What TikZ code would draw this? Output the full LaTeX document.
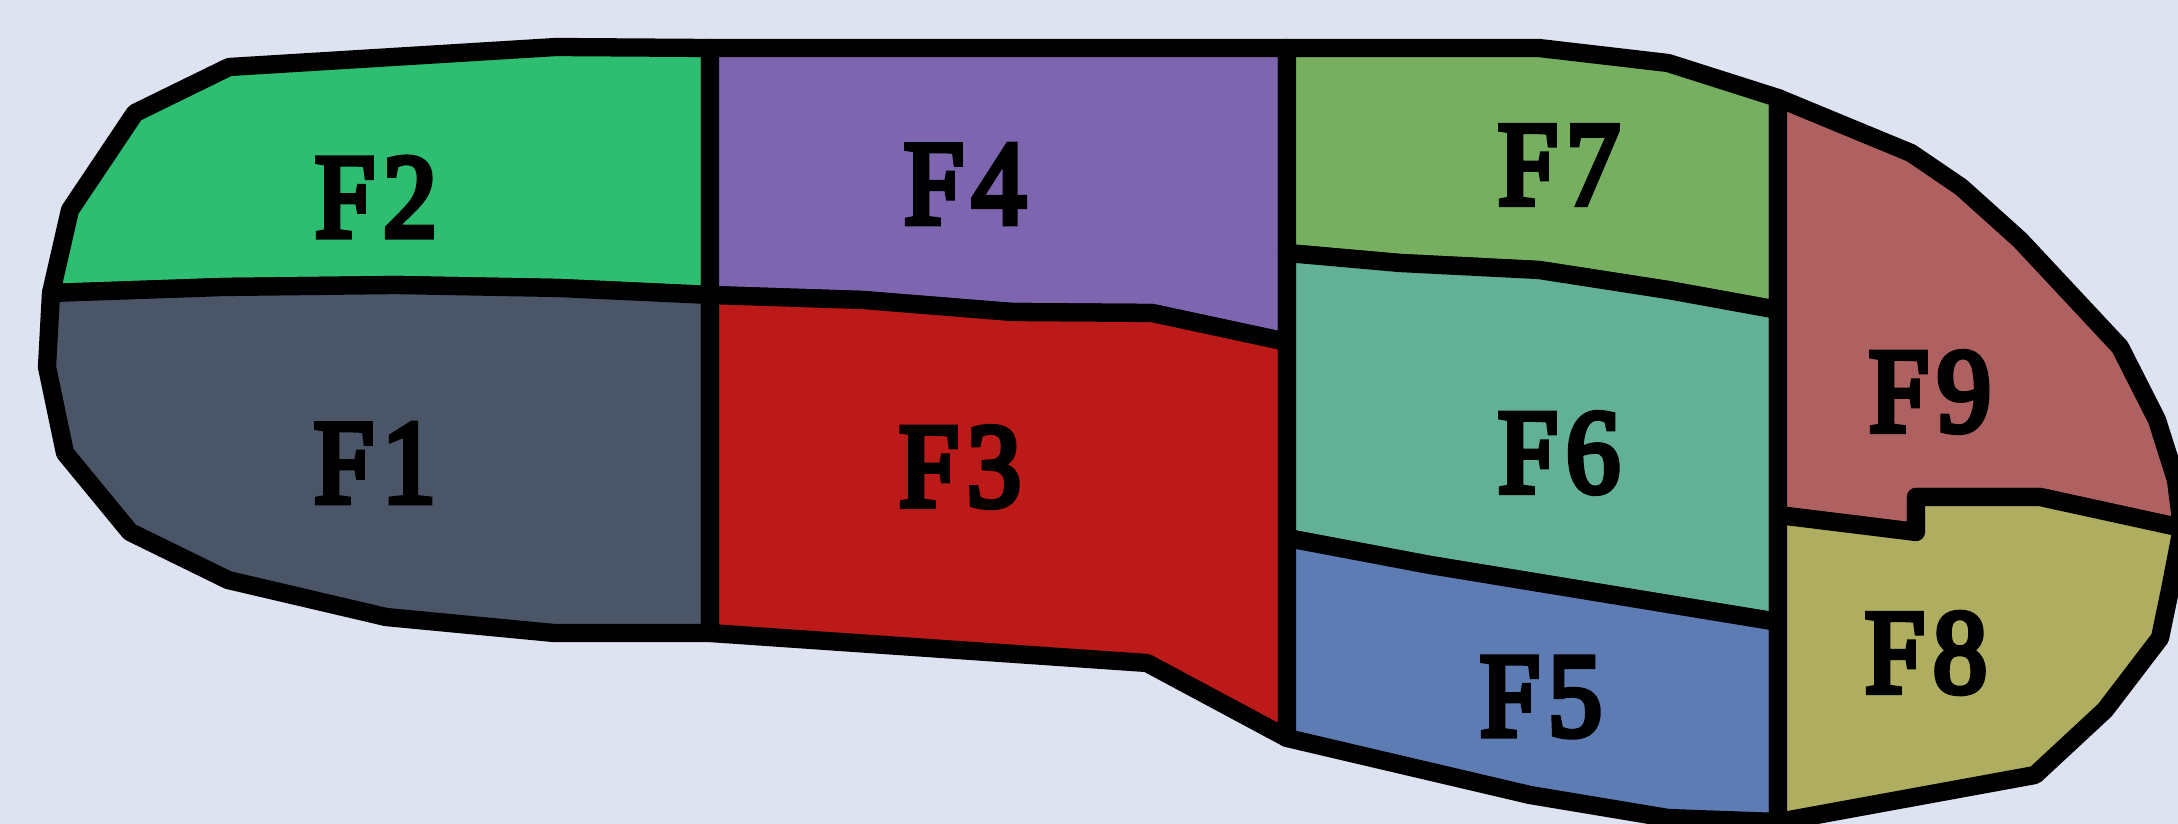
\documentclass[tikz,border=0pt]{standalone}
\usepackage{fontspec}
\setmainfont{Liberation Serif}
\newfontfamily\lblfont{Liberation Serif}[FakeBold=5, FakeStretch=0.9, LetterSpace=7]
\usetikzlibrary{positioning}

\definecolor{bgc}{HTML}{DDE3F0}
\definecolor{cFone}{HTML}{4A5568}
\definecolor{cFtwo}{HTML}{2DBE72}
\definecolor{cFthree}{HTML}{BC1A18}
\definecolor{cFfour}{HTML}{7E65B0}
\definecolor{cFfive}{HTML}{5D7CB3}
\definecolor{cFsix}{HTML}{62B096}
\definecolor{cFseven}{HTML}{76AF60}
\definecolor{cFeight}{HTML}{AFAE60}
\definecolor{cFnine}{HTML}{AE6160}

\begin{document}
\begin{tikzpicture}[
  x=0.01cm, y=-0.01cm,
  zone/.style={draw=black, line width=5.2pt, line join=round},
  lbl/.style={font=\lblfont\fontsize{34}{34}\selectfont, inner sep=0pt},
]

%% ─── canvas ────────────────────────────────────────────────────────────────
\fill[bgc] (0,0) rectangle (2178,824);
\useasboundingbox (0,0) rectangle (2178,824);

%% ─── shared seam points ────────────────────────────────────────────────────
\coordinate (hl)  at (51,293);
\coordinate (t1)  at (710,48);
\coordinate (m1)  at (710,295);
\coordinate (b1)  at (710,633);
\coordinate (t2)  at (1287,48);
\coordinate (m2a) at (1287,253);
\coordinate (m2b) at (1287,342);
\coordinate (m2c) at (1287,538);
\coordinate (b2)  at (1287,738);
\coordinate (t3)  at (1778,98);
\coordinate (m3a) at (1778,310);
\coordinate (m3b) at (1778,515);
\coordinate (m3c) at (1778,622);
\coordinate (b3)  at (1778,822);
\coordinate (tp)  at (2182,528);

%% ─── heel: F2 over F1 ──────────────────────────────────────────────────────
\filldraw[zone, fill=cFtwo] (hl) -- (70,210) -- (135,113) -- (229,67) -- (556,47)
  -- (t1) -- (m1) -- (559,288) -- (396,285) -- (223,287) -- cycle;
\filldraw[zone, fill=cFone] (hl) -- (223,287) -- (396,285) -- (559,288) -- (m1)
  -- (b1) -- (554,633) -- (386,617) -- (228,580) -- (130,532) -- (65,453) -- (47,367) -- cycle;

%% ─── midfoot: F4 over F3 ───────────────────────────────────────────────────
\filldraw[zone, fill=cFfour] (t1) -- (t2) -- (m2b) -- (1152,313) -- (1012,312)
  -- (863,300) -- (m1) -- cycle;
\filldraw[zone, fill=cFthree] (m1) -- (863,300) -- (1012,312) -- (1152,313) -- (m2b)
  -- (b2) -- (1147,663) -- (b1) -- cycle;

%% ─── forefoot: F7, F6, F5 ──────────────────────────────────────────────────
\filldraw[zone, fill=cFseven] (t2) -- (1539,48) -- (1668,63) -- (t3) -- (m3a)
  -- (1668,290) -- (1539,270) -- (1400,263) -- (m2a) -- cycle;
\filldraw[zone, fill=cFsix] (m2a) -- (1400,263) -- (1539,270) -- (1668,290) -- (m3a)
  -- (m3c) -- (1430,565) -- (m2c) -- cycle;
\filldraw[zone, fill=cFfive] (m2c) -- (1430,565) -- (m3c) -- (b3) -- (1668,818)
  -- (1530,795) -- (b2) -- cycle;

%% ─── toes: F9 over F8 ──────────────────────────────────────────────────────
\filldraw[zone, fill=cFnine] (t3) -- (1911,153) -- (1961,187) -- (2020,240) -- (2120,347)
  -- (2157,420) -- (2176,480) -- (tp) -- (2040,497) -- (1916,497) -- (1916,532) -- (m3b) -- cycle;
\filldraw[zone, fill=cFeight] (m3b) -- (1916,532) -- (1916,497) -- (2040,497) -- (tp)
  -- (2170,590) -- (2160,638) -- (2105,710) -- (2035,775) -- (b3) -- cycle;

%% ─── labels ────────────────────────────────────────────────────────────────
\node[lbl] (lF1) at (375,463)  {F1};
\node[lbl] (lF2) at (376,197)  {F2};
\node[lbl] (lF3) at (960,467)  {F3};
\node[lbl] (lF4) at (965,184)  {F4};
\node[lbl] (lF5) at (1541,697) {F5};
\node[lbl] (lF6) at (1559,453) {F6};
\node[lbl] (lF7) at (1559,165) {F7};
\node[lbl] (lF8) at (1926,653) {F8};
\node[lbl] (lF9) at (1930,392) {F9};

\end{tikzpicture}
\end{document}
